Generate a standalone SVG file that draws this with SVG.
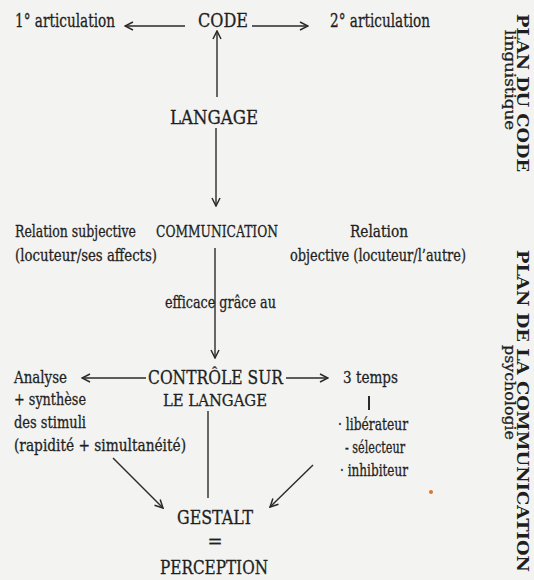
<svg xmlns="http://www.w3.org/2000/svg" width="534" height="580" viewBox="0 0 534 580">
<defs>
<style>
.t{font-family:"DejaVu Serif","Liberation Serif",serif;fill:#1f1f1f;stroke:#1f1f1f;stroke-width:0.3;font-size:16px}
.c{font-size:18px}
.b{font-weight:bold}
.ln{stroke:#2a2a2a;stroke-width:1.4;fill:none}
</style>
<marker id="ah" viewBox="0 0 10 10" refX="9" refY="5" markerWidth="10" markerHeight="10" markerUnits="userSpaceOnUse" orient="auto">
<path d="M1,1 L9,5 L1,9" fill="none" stroke="#2a2a2a" stroke-width="1.5"/>
</marker>
</defs>
<rect width="534" height="580" fill="#f3f3f1"/>
<g id="connectors">
<line class="ln" x1="185" y1="26" x2="125" y2="26" marker-end="url(#ah)"/>
<line class="ln" x1="252" y1="26" x2="308" y2="26" marker-end="url(#ah)"/>
<line class="ln" x1="217" y1="97" x2="217" y2="31" marker-end="url(#ah)"/>
<line class="ln" x1="216" y1="128" x2="216" y2="206" marker-end="url(#ah)"/>
<line class="ln" x1="215" y1="248" x2="215" y2="358" marker-end="url(#ah)"/>
<line class="ln" x1="146" y1="378" x2="82" y2="378" marker-end="url(#ah)"/>
<line class="ln" x1="286" y1="378" x2="328" y2="378" marker-end="url(#ah)"/>
<line class="ln" x1="369" y1="396" x2="369" y2="410" style="stroke-width:2"/>
<line class="ln" x1="208" y1="411" x2="208" y2="498"/>
<line class="ln" x1="113" y1="458" x2="163" y2="508" marker-end="url(#ah)"/>
<line class="ln" x1="313" y1="465" x2="270" y2="507" marker-end="url(#ah)"/>
</g>
<g id="n-art1"><text class="t c" x="15" y="27" textLength="100" lengthAdjust="spacingAndGlyphs">1° articulation</text></g>
<g id="n-code"><text class="t c" x="198" y="27" textLength="50" lengthAdjust="spacingAndGlyphs">CODE</text></g>
<g id="n-art2"><text class="t c" x="330" y="27" textLength="100" lengthAdjust="spacingAndGlyphs">2° articulation</text></g>
<g id="n-langage"><text class="t c" x="170" y="124" textLength="88" lengthAdjust="spacingAndGlyphs">LANGAGE</text></g>
<g id="n-subj">
<text class="t" x="15" y="237" textLength="121" lengthAdjust="spacingAndGlyphs">Relation subjective</text>
<text class="t" x="15" y="261" textLength="142" lengthAdjust="spacingAndGlyphs">(locuteur/ses affects)</text>
</g>
<g id="n-comm"><text class="t" x="156" y="237" textLength="122" lengthAdjust="spacingAndGlyphs" style="font-size:17px">COMMUNICATION</text></g>
<g id="n-obj">
<text class="t" x="350" y="237" textLength="58" lengthAdjust="spacingAndGlyphs">Relation</text>
<text class="t" x="290" y="261" textLength="176" lengthAdjust="spacingAndGlyphs">objective (locuteur/l’autre)</text>
</g>
<g id="n-eff"><text class="t" x="165" y="308" textLength="111" lengthAdjust="spacingAndGlyphs">efficace grâce au</text></g>
<g id="n-ctrl">
<text class="t c" x="148" y="384" textLength="135" lengthAdjust="spacingAndGlyphs">CONTRÔLE SUR</text>
<text class="t" x="163" y="406" textLength="104" lengthAdjust="spacingAndGlyphs" style="font-size:17px">LE LANGAGE</text>
</g>
<g id="n-analyse">
<text class="t" x="14" y="383" textLength="53" lengthAdjust="spacingAndGlyphs">Analyse</text>
<text class="t" x="14" y="405" textLength="72" lengthAdjust="spacingAndGlyphs">+ synthèse</text>
<text class="t" x="14" y="428" textLength="72" lengthAdjust="spacingAndGlyphs">des stimuli</text>
<text class="t" x="14" y="451" textLength="172" lengthAdjust="spacingAndGlyphs">(rapidité + simultanéité)</text>
</g>
<g id="n-temps">
<text class="t" x="343" y="383" textLength="55" lengthAdjust="spacingAndGlyphs">3 temps</text>
<text class="t" x="338" y="430" textLength="70" lengthAdjust="spacingAndGlyphs">· libérateur</text>
<text class="t" x="345" y="453" textLength="60" lengthAdjust="spacingAndGlyphs">- sélecteur</text>
<text class="t" x="340" y="476" textLength="68" lengthAdjust="spacingAndGlyphs">· inhibiteur</text>
</g>
<g id="n-gestalt">
<text class="t c" x="177" y="524" textLength="76" lengthAdjust="spacingAndGlyphs">GESTALT</text>
<text class="t c" x="215" y="548" text-anchor="middle">=</text>
<text class="t c" x="160" y="574" textLength="108" lengthAdjust="spacingAndGlyphs">PERCEPTION</text>
</g>
<g id="side-code">
<text class="t b" transform="translate(517,14) rotate(90)" x="0" y="0" textLength="158" lengthAdjust="spacingAndGlyphs" style="font-size:17px;stroke-width:0">PLAN DU CODE</text>
<text class="t" transform="translate(505,30) rotate(90)" x="0" y="0" textLength="100" lengthAdjust="spacingAndGlyphs" style="font-size:14px">linguistique</text>
</g>
<g id="side-comm">
<text class="t b" transform="translate(517,250) rotate(90)" x="0" y="0" textLength="322" lengthAdjust="spacingAndGlyphs" style="font-size:17px;stroke-width:0">PLAN DE LA COMMUNICATION</text>
<text class="t" transform="translate(505,345) rotate(90)" x="0" y="0" textLength="95" lengthAdjust="spacingAndGlyphs" style="font-size:14px">psychologie</text>
</g>
<circle cx="431" cy="492" r="2" fill="#d9782a"/>
</svg>
